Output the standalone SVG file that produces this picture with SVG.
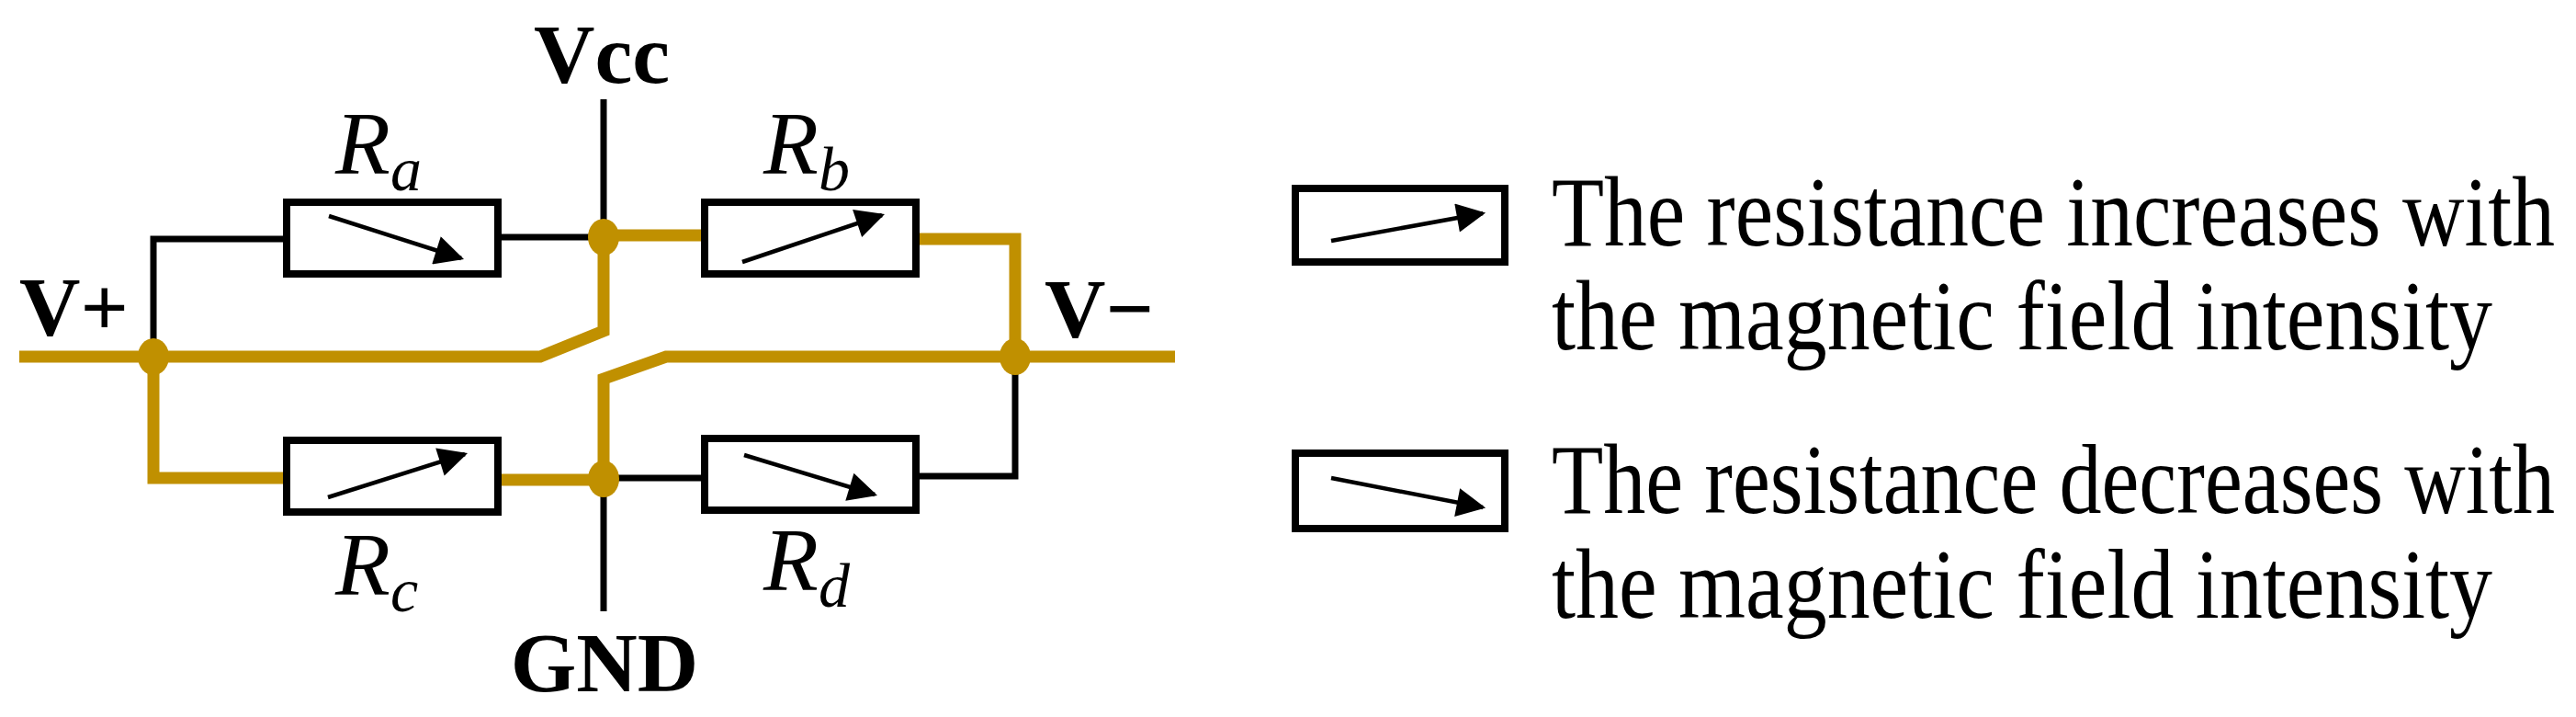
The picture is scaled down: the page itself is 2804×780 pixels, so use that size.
<svg xmlns="http://www.w3.org/2000/svg" width="2804" height="780" viewBox="0 0 2804 780">
<style>
.k{fill:none;stroke:#000;stroke-width:7}
.y{fill:none;stroke:#C09000;stroke-width:13}
.box{fill:#fff;stroke:#000;stroke-width:8}
.ar{stroke:#000;stroke-width:4.5;marker-end:url(#ah)}
.lb{font-family:"Liberation Serif",serif;font-weight:bold;font-size:92px;fill:#000}
.r{font-family:"Liberation Serif",serif;font-style:italic;font-size:98px;fill:#000}
.t{font-family:"Liberation Serif",serif;font-size:108px;fill:#000}
.dot{fill:#C09000}
</style>
<defs>
<marker id="ah" viewBox="0 0 10 10" refX="9" refY="5" markerWidth="9" markerHeight="7" orient="auto" markerUnits="strokeWidth"><path d="M0,0L10,5L0,10z" fill="#000"/></marker>
</defs>
<g id="connectors">
<path class="k" d="M657,108V256"/>
<path class="k" d="M657,522V665"/>
<path class="k" d="M167,388V260H312"/>
<path class="k" d="M542,258H657"/>
<path class="k" d="M657,520H767"/>
<path class="k" d="M997,518H1105V388"/>
<path class="y" d="M21,388H588L657,360V256H767"/>
<path class="y" d="M997,260H1105V388"/>
<path class="y" d="M1279,388H725L657,412V522H542"/>
<path class="y" d="M167,388V520H312"/>
</g>
<g id="Ra"><rect class="box" x="312" y="220" width="230" height="78"/><line class="ar" x1="358" y1="235" x2="502" y2="281"/><text class="r" x="365" y="189">R<tspan font-size="68" dy="18">a</tspan></text></g>
<g id="Rb"><rect class="box" x="767" y="220" width="230" height="78"/><line class="ar" x1="808" y1="285" x2="960" y2="234"/><text class="r" x="831" y="189">R<tspan font-size="68" dy="18">b</tspan></text></g>
<g id="Rc"><rect class="box" x="312" y="479" width="230" height="78"/><line class="ar" x1="357" y1="541" x2="506" y2="494"/><text class="r" x="365" y="647">R<tspan font-size="68" dy="18">c</tspan></text></g>
<g id="Rd"><rect class="box" x="767" y="477" width="230" height="78"/><line class="ar" x1="810" y1="495" x2="952" y2="538"/><text class="r" x="831" y="642">R<tspan font-size="68" dy="18">d</tspan></text></g>
<g id="nodes">
<ellipse class="dot" cx="167" cy="388" rx="17" ry="20"/>
<ellipse class="dot" cx="657" cy="258" rx="17" ry="20"/>
<ellipse class="dot" cx="657" cy="521" rx="17" ry="20"/>
<ellipse class="dot" cx="1105" cy="388" rx="17" ry="20"/>
</g>
<g id="labels">
<text class="lb" x="655" y="90" text-anchor="middle">Vcc</text>
<text class="lb" x="658" y="752" text-anchor="middle">GND</text>
<text class="lb" x="21" y="365">V+</text>
<text class="lb" x="1137" y="367">V−</text>
</g>
<g id="legend1"><rect class="box" x="1410" y="205" width="228" height="80"/><line class="ar" x1="1449" y1="262" x2="1614" y2="232"/>
<text class="t" x="1689" y="267" textLength="1092" lengthAdjust="spacingAndGlyphs">The resistance increases with</text>
<text class="t" x="1689" y="380" textLength="1024" lengthAdjust="spacingAndGlyphs">the magnetic field intensity</text></g>
<g id="legend2"><rect class="box" x="1410" y="493" width="228" height="82"/><line class="ar" x1="1449" y1="520" x2="1614" y2="552"/>
<text class="t" x="1689" y="558" textLength="1092" lengthAdjust="spacingAndGlyphs">The resistance decreases with</text>
<text class="t" x="1689" y="672" textLength="1024" lengthAdjust="spacingAndGlyphs">the magnetic field intensity</text></g>
</svg>
